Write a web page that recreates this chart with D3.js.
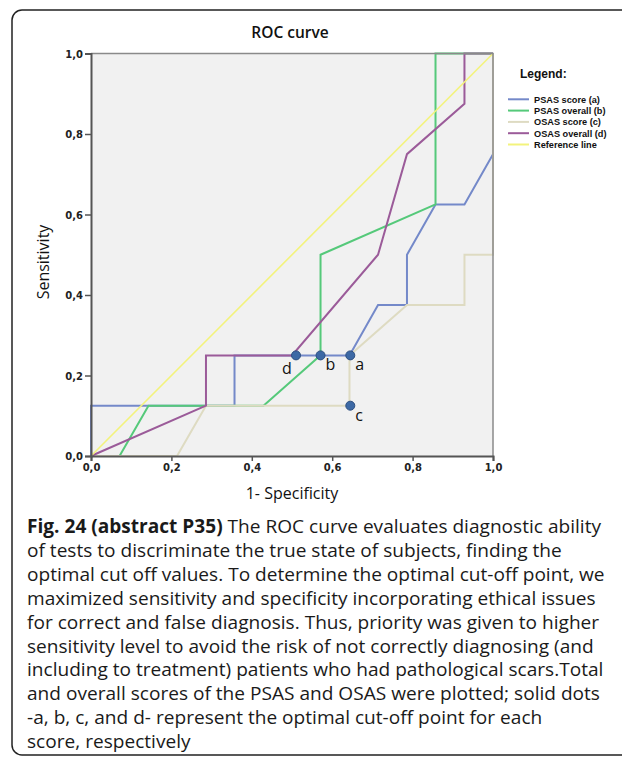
<!DOCTYPE html>
<html>
<head>
<meta charset="utf-8">
<script src="https://cdn.jsdelivr.net/npm/d3@7"></script>
<style>
  body { margin: 0; background: #fff; }
</style>
</head>
<body>
<div id="vis"></div>
<script>
// Datos de las curvas ROC (1 - especificidad, sensibilidad)
const psasScore = [[0, 0], [0, 0.125], [0.357, 0.125], [0.357, 0.25], [0.643, 0.25], [0.714, 0.375], [0.786, 0.375], [0.786, 0.5], [0.857, 0.625], [0.929, 0.625], [1, 0.75], [1, 1]];
const psasOverall = [[0, 0], [0.071, 0], [0.143, 0.125], [0.429, 0.125], [0.571, 0.25], [0.571, 0.5], [0.857, 0.625], [0.857, 1], [1, 1]];
const osasScore = [[0, 0], [0.214, 0], [0.286, 0.125], [0.643, 0.125], [0.643, 0.25], [0.786, 0.375], [0.929, 0.375], [0.929, 0.5], [1, 0.5], [1, 1]];
const osasOverall = [[0, 0], [0.286, 0.125], [0.286, 0.25], [0.5, 0.25], [0.714, 0.5], [0.786, 0.75], [0.929, 0.875], [0.929, 1], [1, 1]];
const referenceLine = [[0, 0], [1, 1]];

const seriesNames = ["PSAS score (a)", "PSAS overall (b)", "OSAS score (c)", "OSAS overall (d)", "Reference line"];
const seriesColors = ["#7489c9", "#55c97a", "#dedbc2", "#9b5b99", "#f3f37c"];

// Puntos de corte óptimos
const cutLabels = ["a", "b", "c", "d"];
const cutX = [0.645, 0.571, 0.645, 0.51];
const cutY = [0.25, 0.25, 0.125, 0.25];

const ticks = [0, 0.2, 0.4, 0.6, 0.8, 1.0];

const captionBold = "Fig. 24 (abstract P35)";
const captionLines = [
  " The ROC curve evaluates diagnostic ability",
  "of tests to discriminate the true state of subjects, finding the",
  "optimal cut off values. To determine the optimal cut-off point, we",
  "maximized sensitivity and specificity incorporating ethical issues",
  "for correct and false diagnosis. Thus, priority was given to higher",
  "sensitivity level to avoid the risk of not correctly diagnosing (and",
  "including to treatment) patients who had pathological scars.Total",
  "and overall scores of the PSAS and OSAS were plotted; solid dots",
  "-a, b, c, and d- represent the optimal cut-off point for each",
  "score, respectively"
];

const WIDTH = 622;
const HEIGHT = 757;
const SVG = d3.select("#vis").append("svg")
  .attr("width", WIDTH)
  .attr("height", HEIGHT);

// Marco redondeado (se sale por la derecha)
SVG.append("rect")
  .attr("x", 12).attr("y", 10)
  .attr("width", 660).attr("height", 745)
  .attr("rx", 10)
  .attr("fill", "none")
  .attr("stroke", "#222")
  .attr("stroke-width", 1.5);

const plot = { left: 91, right: 493, top: 53.5, bottom: 456 };

const x = d3.scaleLinear().domain([0, 1]).range([plot.left, plot.right]);
const y = d3.scaleLinear().domain([0, 1]).range([plot.bottom, plot.top]);

// Fondo gris del área de datos
SVG.append("rect")
  .attr("x", plot.left).attr("y", plot.top)
  .attr("width", plot.right - plot.left)
  .attr("height", plot.bottom - plot.top)
  .attr("fill", "#f1f1f1");

// Curvas
const line = d3.line().x(d => x(d[0])).y(d => y(d[1]));
const allSeries = [psasScore, psasOverall, osasScore, osasOverall, referenceLine];
SVG.append("g").selectAll("path")
  .data(allSeries)
  .join("path")
  .attr("d", line)
  .attr("fill", "none")
  .attr("stroke", (d, i) => seriesColors[i])
  .attr("stroke-width", (d, i) => i === 4 ? 1.6 : 2);

// Borde superior y derecho
SVG.append("path")
  .attr("d", `M${plot.left},${plot.top}H${plot.right}V${plot.bottom}`)
  .attr("fill", "none")
  .attr("stroke", "#8a8a8a")
  .attr("stroke-width", 1.5);

// Ejes con coma decimal
const fmt = d3.formatLocale({ decimal: ",", thousands: ".", grouping: [3], currency: ["", ""] }).format(".1f");

const ejeX = SVG.append("g")
  .attr("transform", `translate(0,${plot.bottom})`)
  .call(d3.axisBottom(x).tickValues(ticks).tickFormat(fmt).tickSize(5).tickPadding(3));
const ejeY = SVG.append("g")
  .attr("transform", `translate(${plot.left},0)`)
  .call(d3.axisLeft(y).tickValues(ticks).tickFormat(fmt).tickSize(6).tickPadding(2));

[ejeX, ejeY].forEach(g => {
  g.select(".domain").attr("stroke", "#555").attr("stroke-width", 2);
  g.selectAll(".tick line").attr("stroke", "#555").attr("stroke-width", 1.5);
  g.selectAll(".tick text")
    .attr("font-family", "DejaVu Sans")
    .attr("font-weight", "bold")
    .attr("font-size", 10)
    .attr("fill", "#222");
});
ejeY.selectAll(".tick text").attr("dy", "0.35em");

// Puntos de corte
SVG.append("g").selectAll("circle")
  .data(cutLabels)
  .join("circle")
  .attr("cx", (d, i) => x(cutX[i]))
  .attr("cy", (d, i) => y(cutY[i]))
  .attr("r", 4.5)
  .attr("fill", "#3d69a5")
  .attr("stroke", "#2c4e80")
  .attr("stroke-width", 1);

const labelOffset = { a: [5, 15], b: [5, 15], c: [5, 15], d: [-14, 19] };
SVG.append("g").selectAll("text")
  .data(cutLabels)
  .join("text")
  .attr("x", (d, i) => x(cutX[i]) + labelOffset[d][0])
  .attr("y", (d, i) => y(cutY[i]) + labelOffset[d][1])
  .attr("font-family", "Open Sans")
  .attr("font-size", 16)
  .attr("fill", "#111")
  .text(d => d);

// Títulos
SVG.append("text")
  .attr("x", 290).attr("y", 38)
  .attr("text-anchor", "middle")
  .attr("font-family", "Open Sans")
  .attr("font-weight", 600)
  .attr("font-size", 15.5)
  .attr("fill", "#111")
  .text("ROC curve");

SVG.append("text")
  .attr("x", 292).attr("y", 499)
  .attr("text-anchor", "middle")
  .attr("font-family", "Open Sans")
  .attr("font-size", 16)
  .attr("fill", "#111")
  .text("1- Specificity");

SVG.append("text")
  .attr("transform", "translate(49,262) rotate(-90)")
  .attr("text-anchor", "middle")
  .attr("font-family", "Open Sans")
  .attr("font-size", 16)
  .attr("fill", "#111")
  .text("Sensitivity");

// Leyenda
const legend = SVG.append("g");
legend.append("text")
  .attr("x", 520).attr("y", 78)
  .attr("font-family", "Liberation Sans")
  .attr("font-weight", "bold")
  .attr("font-size", 12)
  .attr("fill", "#111")
  .text("Legend:");

const items = legend.selectAll("g.item")
  .data(seriesNames)
  .join("g")
  .attr("class", "item")
  .attr("transform", (d, i) => `translate(0,${99.3 + i * 11.3})`);
items.append("line")
  .attr("x1", 508).attr("x2", 529)
  .attr("stroke", (d, i) => seriesColors[i])
  .attr("stroke-width", 2);
items.append("text")
  .attr("x", 534).attr("y", 3.3)
  .attr("font-family", "Liberation Sans")
  .attr("font-weight", "bold")
  .attr("font-size", 9.2)
  .attr("fill", "#111")
  .text(d => d);

// Pie de figura
const cap = SVG.append("g")
  .attr("font-family", "Open Sans")
  .attr("font-size", 19)
  .attr("fill", "#1a1a1a");

const capTexts = captionLines.map((t, i) => {
  const txt = cap.append("text")
    .attr("x", 27)
    .attr("y", 533 + i * 23.9);
  if (i === 0) {
    txt.append("tspan").attr("font-weight", "bold").text(captionBold);
  }
  txt.append("tspan").attr("xml:space", "preserve").text(t);
  return txt;
});

// Ajuste horizontal para que la primera línea ocupe el ancho original
const w0 = capTexts[0].node().getComputedTextLength();
const factor = 574 / w0;
capTexts.forEach(txt => {
  const w = txt.node().getComputedTextLength();
  txt.attr("textLength", w * factor).attr("lengthAdjust", "spacingAndGlyphs");
});
</script>
</body>
</html>
